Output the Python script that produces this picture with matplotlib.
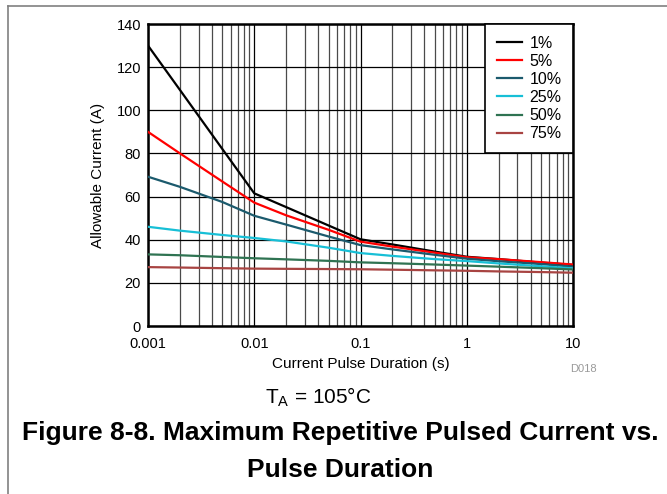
import matplotlib
matplotlib.use("Agg")
import matplotlib.pyplot as plt
from matplotlib.lines import Line2D
from matplotlib.ticker import LogLocator, FixedLocator, FixedFormatter

plt.rcParams['font.family'] = ['Liberation Sans', 'DejaVu Sans']

# pulse duration (s)
pulseTimes = [0.001, 0.002, 0.005, 0.01, 0.02, 0.05, 0.1, 0.2, 0.5, 1, 2, 5, 10]

# allowable current (A) per duty cycle
current1 = [130, 109.4, 82.1, 61.5, 55.1, 46.6, 40.2, 37.8, 34.5, 32.1, 31.0, 29.4, 28.3]
current5 = [90, 80, 67, 57.2, 51.3, 44.6, 39.1, 36.8, 34.0, 31.9, 31.0, 29.6, 28.5]
current10 = [69.2, 64.5, 57.5, 51.1, 47.0, 41.5, 37.5, 35.5, 33.0, 31.2, 30.0, 28.7, 27.5]
current25 = [46, 44.2, 42.2, 40.8, 39.2, 36.3, 33.8, 32.5, 31.0, 30.1, 29.0, 27.7, 26.7]
current50 = [33.2, 32.8, 32.0, 31.4, 30.9, 30.2, 29.5, 29.1, 28.5, 28.0, 27.5, 26.8, 26.2]
current75 = [27.3, 27.1, 26.8, 26.6, 26.5, 26.4, 26.3, 26.1, 25.8, 25.6, 25.3, 25.0, 24.7]

dutyLabels = ['1%', '5%', '10%', '25%', '50%', '75%']
lineColors = ['#000000', '#ff0000', '#1b5a6d', '#17bfd6', '#2f7352', '#a84442']

xTicks = [0.001, 0.01, 0.1, 1, 10]
xTickLabels = ['0.001', '0.01', '0.1', '1', '10']
yTicks = [0, 20, 40, 60, 80, 100, 120, 140]

fig = plt.figure(figsize=(6.67, 4.94), dpi=100)
ax = fig.add_axes([148 / 667, 1 - 326 / 494, (573 - 148) / 667, (326 - 24) / 494])

allCurrents = [current1, current5, current10, current25, current50, current75]
for values, label, color in zip(allCurrents, dutyLabels, lineColors):
    ax.plot(pulseTimes, values, color=color, linewidth=1.6, label=label, zorder=3)

ax.set_xscale('log')
ax.set_xlim(0.001, 10)
ax.set_ylim(0, 140)
ax.xaxis.set_major_locator(FixedLocator(xTicks))
ax.xaxis.set_major_formatter(FixedFormatter(xTickLabels))
ax.xaxis.set_minor_locator(LogLocator(base=10, subs=range(2, 10)))
ax.set_yticks(yTicks)

ax.grid(True, which='major', color='black', linewidth=0.9)
ax.grid(True, which='minor', axis='x', color='#4a4a4a', linewidth=0.9)
ax.tick_params(which='both', length=0, labelsize=10.5)
ax.tick_params(axis='x', pad=8)
ax.tick_params(axis='y', pad=5)
for spine in ax.spines.values():
    spine.set_linewidth(1.8)

ax.set_xlabel('Current Pulse Duration (s)', fontsize=11, labelpad=4.3)
ax.set_ylabel('Allowable Current (A)', fontsize=11, labelpad=8.5)

leg = ax.legend(loc='upper right', borderaxespad=0, fontsize=11.5, frameon=True,
                fancybox=False, edgecolor='black', framealpha=1,
                handlelength=1.6, labelspacing=0.2, borderpad=0.72, handletextpad=0.45)
leg.get_frame().set_linewidth(1.2)
leg.set_zorder(5)

fig.text(583 / 667, 1 - 369 / 494, 'D018', fontsize=8, color='#9a9a9a', ha='center', va='center')
fig.text(318 / 667, 1 - 397 / 494, r'$\mathregular{T_A}$ = 105°C', fontsize=15, ha='center', va='center')
fig.text(340 / 667, 1 - 433 / 494, 'Figure 8-8. Maximum Repetitive Pulsed Current vs.',
         fontsize=19, fontweight='bold', ha='center', va='center')
fig.text(340 / 667, 1 - 470 / 494, 'Pulse Duration',
         fontsize=19, fontweight='bold', ha='center', va='center')

# outer page frame (left and top edges only)
fig.add_artist(Line2D([8 / 667, 8 / 667], [0, 1 - 6 / 494], color='#808080', linewidth=1.2))
fig.add_artist(Line2D([8 / 667, 1], [1 - 6 / 494, 1 - 6 / 494], color='#808080', linewidth=1.2))

fig.savefig('out.png', dpi=100)
